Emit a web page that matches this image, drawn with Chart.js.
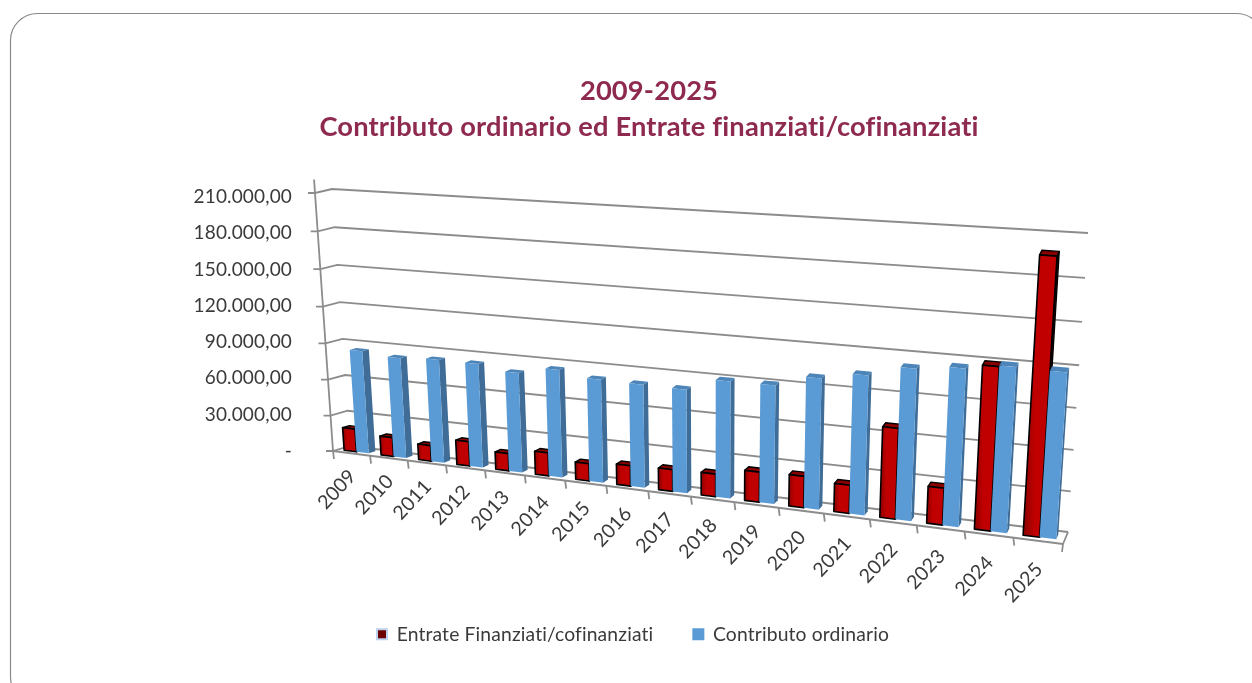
<!DOCTYPE html>
<html><head><meta charset="utf-8">
<style>html,body{margin:0;padding:0;background:#fff}canvas{display:block}</style>
<script src="https://cdn.jsdelivr.net/npm/chart.js@4"></script></head>
<body><div style="width:1252px;height:683px"><canvas id="c" width="1252" height="683"></canvas></div>
<script>
const years=['2009','2010','2011','2012','2013','2014','2015','2016','2017','2018','2019','2020','2021','2022','2023','2024','2025'];
const entrate=[19200,15800,13000,20000,14200,18700,13900,16300,17200,17800,23500,24300,21700,68300,27800,120000,199000];
const contributo=[85000,82500,84300,84200,80300,86000,81700,81200,80800,90400,90800,99300,104800,113000,116400,120800,120300];
const tickLabels=['-','30.000,00','60.000,00','90.000,00','120.000,00','150.000,00','180.000,00','210.000,00'];
const titleLines=['2009-2025','Contributo ordinario ed Entrate finanziati/cofinanziati'];

function homography(q){
  const [x0,y0]=q[0],[x1,y1]=q[1],[x2,y2]=q[2],[x3,y3]=q[3];
  const dx1=x1-x2,dx2=x3-x2,sx=x0-x1+x2-x3,dy1=y1-y2,dy2=y3-y2,sy=y0-y1+y2-y3;
  const den=dx1*dy2-dx2*dy1,g=(sx*dy2-dx2*sy)/den,h=(dx1*sy-sx*dy1)/den;
  const a=x1-x0+g*x1,b=x3-x0+h*x3,d=y1-y0+g*y1,e=y3-y0+h*y3;
  return (u,v)=>{const w=g*u+h*v+1;return [(a*u+b*v+x0)/w,(d*u+e*v+y0)/w];};
}
// view of the box: floor-left, floor-right, top-right, top-left
const frontPlane=homography([[333,451],[1063,544],[1083,245],[315,193]]);
const backPlane=homography([[350,446],[1068,532],[1088,233],[332,189]]);
function P(u,v,d){const a=frontPlane(u,v),b=backPlane(u,v);return [a[0]+(b[0]-a[0])*d,a[1]+(b[1]-a[1])*d];}
function poly(ctx,pts,fill,stroke,lw){
  ctx.beginPath();pts.forEach((p,i)=>i?ctx.lineTo(p[0],p[1]):ctx.moveTo(p[0],p[1]));ctx.closePath();
  if(fill){ctx.fillStyle=fill;ctx.fill();}
  if(stroke){ctx.strokeStyle=stroke;ctx.lineWidth=lw;ctx.lineJoin='round';ctx.stroke();}
}
function seg(ctx,a,b){ctx.beginPath();ctx.moveTo(a[0],a[1]);ctx.lineTo(b[0],b[1]);ctx.stroke();}
const D0=0.3,D1=0.7;
function drawBar(ctx,u0,u1,v,red){
  const a=P(u0,0,D0),b=P(u1,0,D0),c=P(u1,v,D0),e=P(u0,v,D0),c2=P(u1,v,D1),e2=P(u0,v,D1),b2=P(u1,0,D1);
  if(red){
    poly(ctx,[b,b2,c2,c],'#3a0000','#000',1.4);
    poly(ctx,[e,c,c2,e2],'#8a0000','#000',1.4);
    const g=ctx.createLinearGradient(Math.min(a[0],e[0]),0,Math.max(b[0],c[0]),0);
    g.addColorStop(0,'#8a0000');g.addColorStop(.35,'#c00000');g.addColorStop(1,'#c00000');
    poly(ctx,[a,b,c,e],g,'#000',1.6);
  }else{
    poly(ctx,[b,b2,c2,c],'#3f6d98');
    poly(ctx,[e,c,c2,e2],'#4d85b8');
    poly(ctx,[a,b,c,e],'#5b9bd5');
  }
}
const perspective={
  id:'perspective',
  beforeUpdate(chart){chart.ctx.letterSpacing='0.15px';},
  beforeDraw(chart){
    const ctx=chart.ctx;ctx.save();
    ctx.strokeStyle='#8a8a8a';ctx.lineWidth=1.2;
    ctx.beginPath();ctx.roundRect(10.5,13.5,1253,690,27);ctx.stroke();
    ctx.restore();
  },
  afterLayout(chart){chart.legend.left-=16;chart.legend.right-=16;
    if(chart.legend.legendHitBoxes)chart.legend.legendHitBoxes.forEach(h=>h.left-=16);},
  beforeDatasetsDraw(chart){
    const ctx=chart.ctx,x=chart.scales.x,y=chart.scales.y,ca=chart.chartArea;
    const U=px=>(px-ca.left)/(ca.right-ca.left),V=py=>(ca.bottom-py)/(ca.bottom-ca.top);
    ctx.save();
    // walls and gridlines
    ctx.strokeStyle='#8c8c8c';ctx.lineWidth=1.8;
    y.ticks.forEach(t=>{
      const v=V(y.getPixelForValue(t.value));
      const a=P(0,v,0),b=P(0,v,1),c=P(1,v,1);
      ctx.beginPath();ctx.moveTo(a[0]-7,a[1]);ctx.lineTo(a[0],a[1]);ctx.lineTo(b[0],b[1]);ctx.lineTo(c[0],c[1]);ctx.stroke();
    });
    seg(ctx,P(0,1.05,0),P(0,0,0));
    seg(ctx,P(0,0,0),P(1,0,0));
    seg(ctx,P(1,0,0),P(1,0,1));
    const n=years.length;
    for(let i=0;i<=n;i++){const p=P(i/n,0,0);seg(ctx,p,[p[0]-(i==n?1:-1),p[1]+8]);}
    // bars, from the chart's own elements
    const m0=chart.getDatasetMeta(0).data,m1=chart.getDatasetMeta(1).data;
    m0.forEach((el,i)=>{
      const r=m1[i];
      drawBar(ctx,U(el.x-el.width/2),U(el.x+el.width/2),V(el.y),true);
      drawBar(ctx,U(r.x-r.width/2),U(r.x+r.width/2),V(r.y),false);
    });
    // category labels along the front edge of the floor
    ctx.fillStyle='#3a3a3a';ctx.font='19.5px Lato';ctx.textAlign='center';ctx.textBaseline='middle';
    years.forEach((yr,i)=>{
      const u=U(x.getPixelForValue(i));
      const p=P(u,0,0);
      ctx.save();ctx.translate(p[0]-14.5,p[1]+36+6*u);ctx.rotate(-47*Math.PI/180);ctx.fillText(x.getLabelForValue(i),0,0);ctx.restore();
    });
    ctx.restore();
    return false;
  }
};
new Chart(document.getElementById('c'),{
  type:'bar',
  data:{labels:years,datasets:[
    {label:'Entrate Finanziati/cofinanziati',data:entrate,backgroundColor:'#6b0000',borderColor:'#bcd2ee',borderWidth:2},
    {label:'Contributo ordinario',data:contributo,backgroundColor:'#5b9bd5',borderColor:'#5b9bd5',borderWidth:2}
  ]},
  plugins:[perspective],
  options:{
    responsive:false,animation:false,
    layout:{padding:{left:46,top:0,right:0,bottom:29}},
    datasets:{bar:{categoryPercentage:.67,barPercentage:1}},
    plugins:{
      tooltip:{enabled:false},
      title:{display:true,text:titleLines,color:'#8e2a4f',font:{family:'Lato',size:27.3,weight:'bold',lineHeight:'36px'},padding:{top:73,bottom:52}},
      legend:{position:'bottom',labels:{font:{family:'Lato',size:19.3},color:'#3a3a3a',boxWidth:10,boxHeight:10,padding:40}}
    },
    scales:{
      x:{grid:{display:false},border:{display:false},ticks:{display:false},afterFit(s){s.height=134;}},
      y:{min:0,max:210000,
        grid:{display:false,drawTicks:false},border:{display:false},
        ticks:{stepSize:30000,padding:8,color:'#3a3a3a',font:{family:'Lato',size:19},
          callback(v){return tickLabels[Math.round(v/30000)];}},
        afterFit(s){s.width=254;}}
    }
  }
});
</script></body></html>
